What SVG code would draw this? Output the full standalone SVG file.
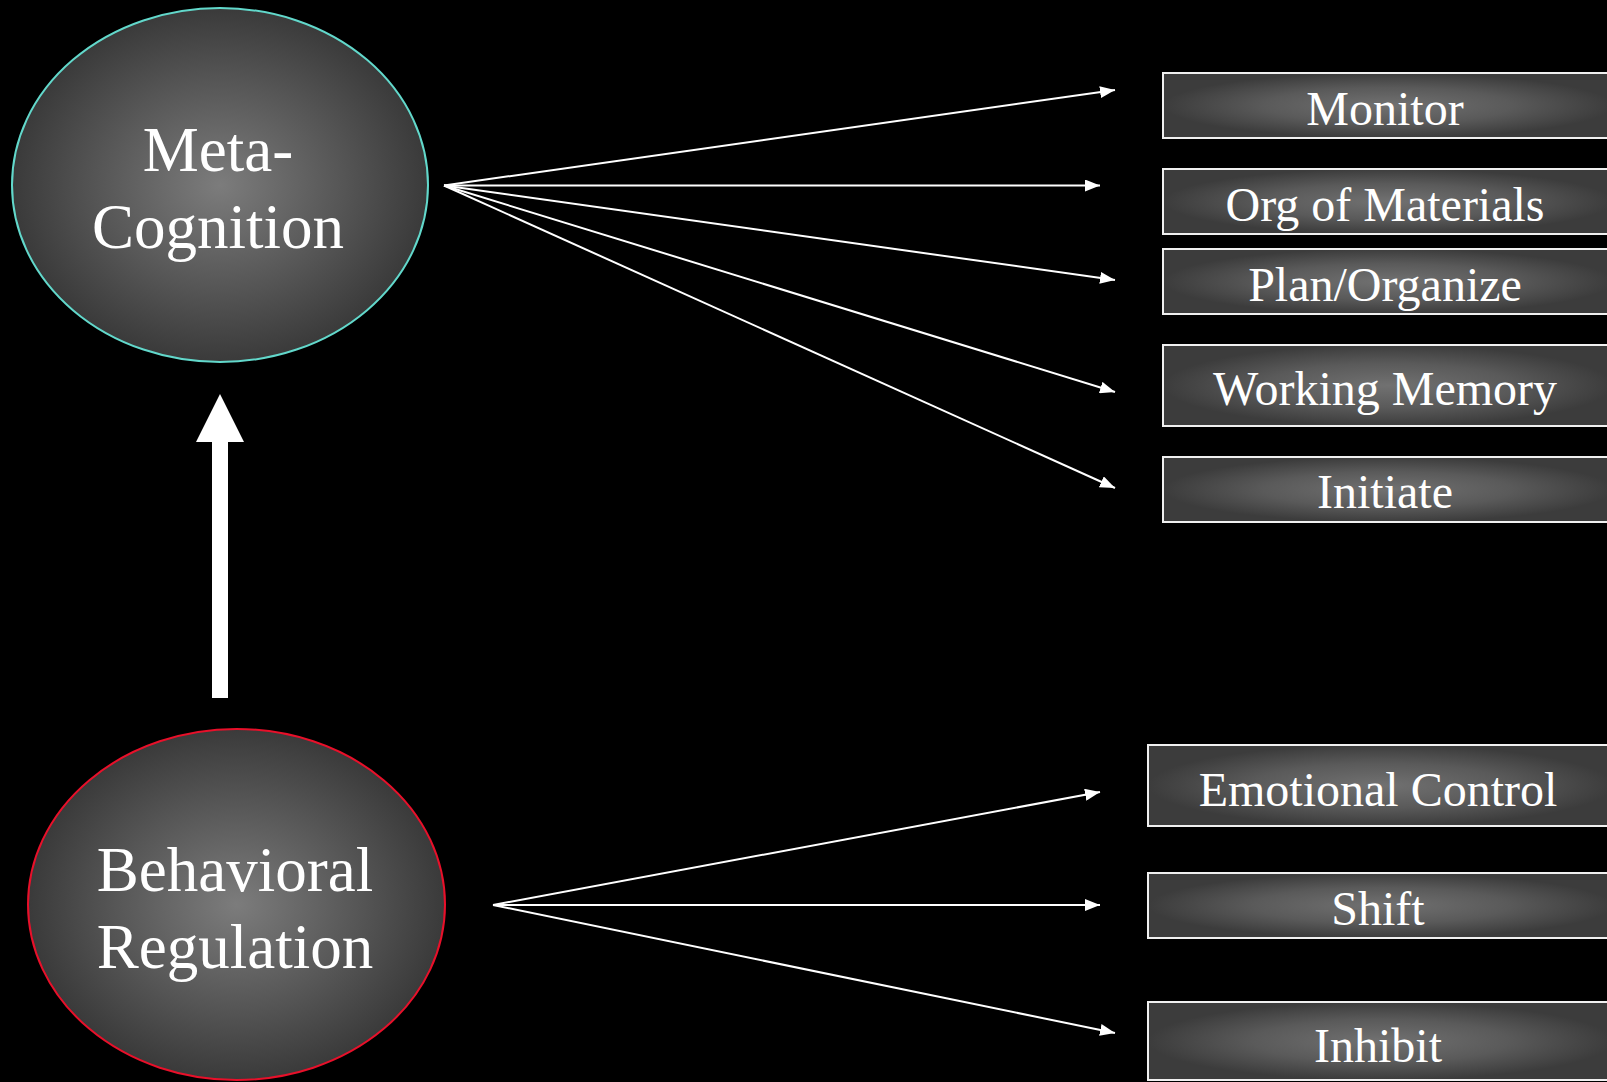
<svg xmlns="http://www.w3.org/2000/svg" width="1607" height="1082" viewBox="0 0 1607 1082">
<style>
.lbl{font-family:"Liberation Serif","Times New Roman",serif;fill:#ffffff;text-anchor:middle}
.big{font-size:63px}
.sm{font-size:48px}
.box{fill:url(#boxg);stroke:#f0f0f0;stroke-width:2}
.con{stroke:#ffffff;stroke-width:2;fill:none;marker-end:url(#ah)}
</style>
<defs>
<radialGradient id="ellg" cx="0.5" cy="0.5" r="0.5">
<stop offset="0" stop-color="#7c7c7c"/>
<stop offset="0.6" stop-color="#555555"/>
<stop offset="1" stop-color="#3a3a3a"/>
</radialGradient>
<radialGradient id="boxg" cx="0.5" cy="0.5" r="0.5">
<stop offset="0" stop-color="#717171"/>
<stop offset="0.55" stop-color="#5a5a5a"/>
<stop offset="1" stop-color="#3c3c3c"/>
</radialGradient>
<marker id="ah" markerUnits="userSpaceOnUse" markerWidth="16" markerHeight="12" refX="15" refY="6" orient="auto">
<path d="M0,0 L15,6 L0,12 z" fill="#ffffff"/>
</marker>
</defs>
<rect x="0" y="0" width="1607" height="1082" fill="#000000"/>

<g id="connectors">
<path class="con" d="M444,185.5 L1115,90"/>
<path class="con" d="M444,185.5 L1100,185.5"/>
<path class="con" d="M444,185.5 L1115,280"/>
<path class="con" d="M444,185.5 L1115,392"/>
<path class="con" d="M444,185.5 L1115,488"/>
<path class="con" d="M493,905 L1100,792"/>
<path class="con" d="M493,905 L1100,905"/>
<path class="con" d="M493,905 L1115,1033"/>
<polygon id="up-arrow" points="212,698 212,442 196,442 220,394 244,442 228,442 228,698" fill="#ffffff"/>
</g>

<g id="meta-cognition">
<ellipse cx="220" cy="185" rx="208" ry="177" fill="url(#ellg)" stroke="#62d8cb" stroke-width="2"/>
<text class="lbl big" x="218" y="171">Meta-</text>
<text class="lbl big" x="218" y="248">Cognition</text>
</g>

<g id="behavioral-regulation">
<ellipse cx="236.5" cy="904.5" rx="208.5" ry="175.5" fill="url(#ellg)" stroke="#e8102a" stroke-width="2"/>
<text class="lbl big" x="235" y="891">Behavioral</text>
<text class="lbl big" x="235" y="968">Regulation</text>
</g>

<g id="monitor">
<rect class="box" x="1163" y="73" width="450" height="65"/>
<text class="lbl sm" x="1385" y="125">Monitor</text>
</g>
<g id="org-of-materials">
<rect class="box" x="1163" y="169" width="450" height="65"/>
<text class="lbl sm" x="1385" y="221">Org of Materials</text>
</g>
<g id="plan-organize">
<rect class="box" x="1163" y="249" width="450" height="65"/>
<text class="lbl sm" x="1385" y="301">Plan/Organize</text>
</g>
<g id="working-memory">
<rect class="box" x="1163" y="345" width="450" height="81"/>
<text class="lbl sm" x="1385" y="405">Working Memory</text>
</g>
<g id="initiate">
<rect class="box" x="1163" y="457" width="450" height="65"/>
<text class="lbl sm" x="1385" y="508">Initiate</text>
</g>

<g id="emotional-control">
<rect class="box" x="1148" y="745" width="465" height="81"/>
<text class="lbl sm" x="1378" y="806">Emotional Control</text>
</g>
<g id="shift">
<rect class="box" x="1148" y="873" width="465" height="65"/>
<text class="lbl sm" x="1378" y="925">Shift</text>
</g>
<g id="inhibit">
<rect class="box" x="1148" y="1002" width="465" height="78"/>
<text class="lbl sm" x="1378" y="1062">Inhibit</text>
</g>
</svg>
